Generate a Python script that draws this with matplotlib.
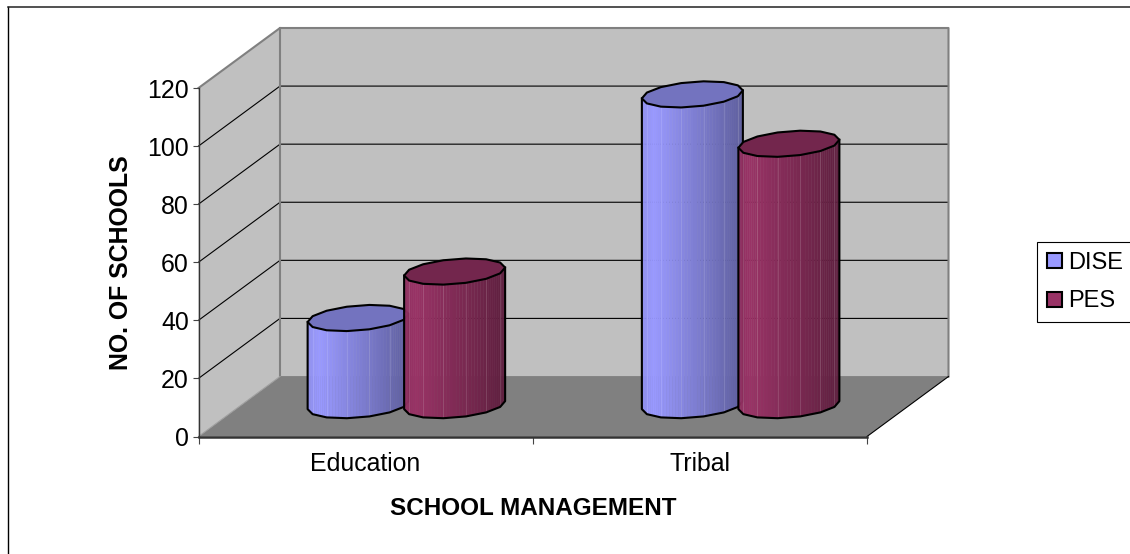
import numpy as np
import matplotlib
matplotlib.use("Agg")
import matplotlib.pyplot as plt
from matplotlib.patches import Polygon, Patch, Rectangle

categories = ["Education", "Tribal"]
series_names = ["DISE", "PES"]
dise_values = [30, 107]
pes_values = [46, 90]
y_ticks = [0, 20, 40, 60, 80, 100, 120]
series_colors = ["#9999FF", "#993366"]

plt.rcParams["font.family"] = ["Liberation Sans", "DejaVu Sans"]
W, H = 1130, 554
fig = plt.figure(figsize=(W / 100, H / 100), dpi=100, facecolor="white")
L, R, T, B = 198.5, 867.0, 88.0, 436.5
ax = fig.add_axes([L / W, 1 - B / H, (R - L) / W, (B - T) / H])
ax.set_xlim(0, len(categories))
ax.set_ylim(0, 120)
ax.patch.set_visible(False)

ux = (R - L) / len(categories)
uy = (B - T) / 120
DX, DY = 81.5 / ux, 60 / uy
WALL, FLOOR, EDGE = "#C0C0C0", "#808080", "#808080"
n = len(categories)

ax.add_patch(Polygon([(0, 0), (DX, DY), (DX, 120 + DY), (0, 120)], fc=WALL, ec="none", zorder=1, clip_on=False))
ax.add_patch(Rectangle((DX, DY), n, 120, fc=WALL, ec="none", zorder=1, clip_on=False))
ax.add_patch(Polygon([(0, 0), (DX, DY), (n + DX, DY), (n, 0)], fc=FLOOR, ec="none", zorder=1.2, clip_on=False))
for v in y_ticks[1:-1]:
    ax.plot([0, DX, n + DX], [v, v + DY, v + DY], color="black", lw=0.8, zorder=1.1, clip_on=False)
# wall edges
ax.plot([0, DX, n + DX, n + DX], [120, 120 + DY, 120 + DY, DY], color=EDGE, lw=1.5, zorder=1.3, clip_on=False)
ax.plot([DX, DX], [120 + DY, DY], color=EDGE, lw=1.5, zorder=1.3, clip_on=False)
ax.plot([DX, n + DX], [DY, DY], color=EDGE, lw=1.2, zorder=1.3, clip_on=False)
ax.plot([0, DX], [0, DY], color="#a0a0a0", lw=0.8, zorder=1.3, clip_on=False)
ax.plot([n, n + DX], [0, DY], color="black", lw=0.8, zorder=1.3, clip_on=False)

A = 50.5 / ux
Bb = 12.5 / uy
SH = 4.0 / uy
SPACING = 96.5 / ux
BASE = 10.8
FACETS = 14
SUB = 7


def shade(rgb, t):
    if t < 0.12:
        f = 0.94 + 0.06 * t / 0.12
    else:
        f = 1.0 - 0.38 * (t - 0.12) / 0.88
    return tuple(c * f for c in rgb)


def ring(cx, cy, th):
    return cx + A * np.cos(th), cy + Bb * np.sin(th) + SH * np.cos(th)


def cylinder(center, value, color, z):
    rgb = matplotlib.colors.to_rgb(color)
    cx = center + DX / 2
    th = np.linspace(np.pi, 2 * np.pi, FACETS // 2 + 1)
    xb, yb = ring(cx, BASE, th)
    xt, yt = ring(cx, BASE + value, th)
    for i in range(len(th) - 1):
        for k in range(SUB):
            f0, f1 = k / SUB, (k + 1) / SUB
            x0, x1 = xb[i] + (xb[i + 1] - xb[i]) * f0, xb[i] + (xb[i + 1] - xb[i]) * f1
            yb0, yb1 = yb[i] + (yb[i + 1] - yb[i]) * f0, yb[i] + (yb[i + 1] - yb[i]) * f1
            yt0, yt1 = yt[i] + (yt[i + 1] - yt[i]) * f0, yt[i] + (yt[i + 1] - yt[i]) * f1
            t = ((x0 + x1) / 2 - (cx - A)) / (2 * A)
            c = shade(rgb, t)
            ax.add_patch(Polygon([(x0, yb0), (x1, yb1), (x1, yt1), (x0, yt0)],
                                 fc=c, ec=c, lw=0.3, zorder=z, clip_on=False))
    for i in range(1, len(th) - 1):
        ax.plot([xb[i], xt[i]], [yb[i], yt[i]], color="white", lw=0.5, alpha=0.18, zorder=z + 0.05, clip_on=False)
    full = np.linspace(0, 2 * np.pi, FACETS + 1)
    xe, ye = ring(cx, BASE + value, full)
    top = tuple(c * 0.75 for c in rgb)
    ax.add_patch(Polygon(np.column_stack([xe, ye]), fc=top, ec="black", lw=1.5, zorder=z + 0.2,
                         joinstyle="round", clip_on=False))
    ax.plot(np.r_[xt[0], xb, xt[-1]], np.r_[yt[0], yb, yt[-1]], color="black", lw=1.5, zorder=z + 0.1,
            solid_joinstyle="round", clip_on=False)


z = 3
for i in range(n):
    c = i + 0.5
    cylinder(c - SPACING / 2, dise_values[i], series_colors[0], z)
    z += 1
    cylinder(c + SPACING / 2, pes_values[i], series_colors[1], z)
    z += 1

for s in ("top", "right"):
    ax.spines[s].set_visible(False)
ax.spines["left"].set_color("#333333")
ax.spines["left"].set_linewidth(1.0)
ax.spines["bottom"].set_color("#333333")
ax.spines["bottom"].set_linewidth(1.8)
ax.spines["bottom"].set_zorder(2)

ax.set_yticks(y_ticks)
ax.set_xticks(np.arange(n + 1))
ax.set_xticklabels([])
ax.set_xticks(np.arange(n) + 0.5, minor=True)
ax.set_xticklabels(categories, minor=True)
ax.tick_params(axis="x", which="major", length=5, width=0.8, color="#444444")
ax.tick_params(axis="x", which="minor", length=0, labelsize=17.9, pad=11.5)
ax.tick_params(axis="y", length=4.5, width=0.8, color="#444444", labelsize=17.9, pad=2.5)
ax.set_xlabel("SCHOOL MANAGEMENT", fontsize=17.5, fontweight="bold", labelpad=15)
ax.set_ylabel("NO. OF SCHOOLS", fontsize=17.9, fontweight="bold", labelpad=10)

handles = [Patch(fc=c, ec="black", lw=1.5) for c in series_colors]
leg = fig.legend(handles, series_names, loc="upper left", bbox_to_anchor=(1037 / W, 1 - 242 / H),
                 borderaxespad=0, fontsize=17, handlelength=0.64, handleheight=0.6,
                 handletextpad=0.27, labelspacing=0.7, borderpad=0.42, fancybox=False,
                 edgecolor="black", framealpha=1)
leg.get_frame().set_linewidth(0.8)

fig.add_artist(plt.Line2D([7.8 / W, 7.8 / W], [0, 1 - 6.5 / H], color="black", lw=1.0))
fig.add_artist(plt.Line2D([7.5 / W, 1], [1 - 6.5 / H, 1 - 6.5 / H], color="#222222", lw=1.1))
fig.savefig("out.png", dpi=100)
